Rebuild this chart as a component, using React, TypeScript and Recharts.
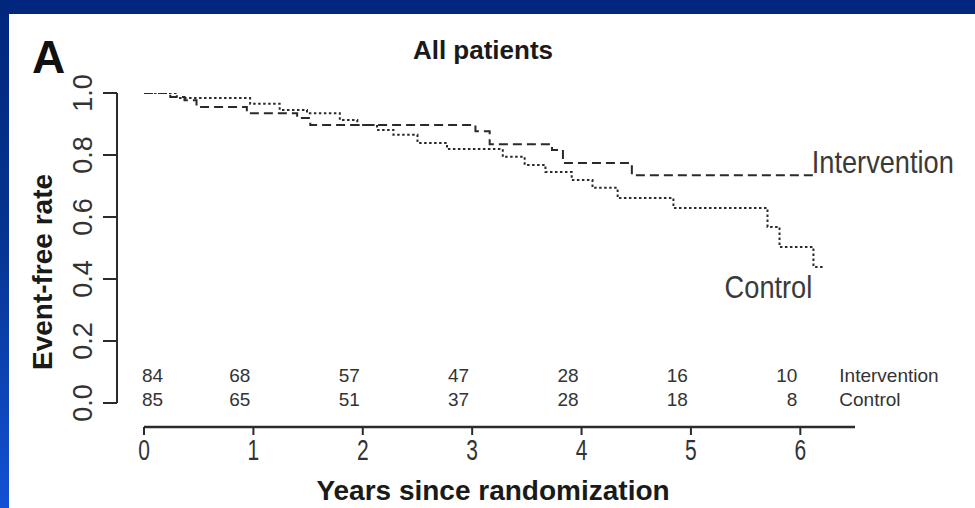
import { LabelList, Line, LineChart, ReferenceLine, XAxis, YAxis } from 'recharts';

// number at risk, read under each year tick
const years = [0, 1, 2, 3, 4, 5, 6];
const atRiskIntervention = [84, 68, 57, 47, 28, 16, 10];
const atRiskControl = [85, 65, 51, 37, 28, 18, 8];
const rateTicks = [0, 0.2, 0.4, 0.6, 0.8, 1.0];

// Kaplan-Meier steps (time in years, event-free rate)
const interventionTime = [0, 0.24, 0.37, 0.48, 0.94, 1.4, 1.52, 3.03, 3.16, 3.73, 3.83, 4.46, 6.15];
const interventionRate = [1.0, 0.987, 0.977, 0.955, 0.935, 0.919, 0.897, 0.877, 0.835, 0.816, 0.774, 0.735, 0.735];
const controlTime = [0, 0.3, 0.97, 1.24, 1.49, 1.79, 1.95, 2.13, 2.28, 2.5, 2.77, 3.28, 3.48, 3.67, 3.91, 4.1, 4.33, 4.84, 5.7, 5.81, 6.12, 6.21];
const controlRate = [1.0, 0.984, 0.965, 0.945, 0.935, 0.913, 0.897, 0.881, 0.865, 0.839, 0.819, 0.794, 0.768, 0.745, 0.719, 0.694, 0.661, 0.629, 0.568, 0.503, 0.439, 0.439];

const interventionData = interventionTime.map((t, i) => ({ t, v: interventionRate[i] }));
const controlData = controlTime.map((t, i) => ({ t, v: controlRate[i] }));

const X_MIN = -0.247;
const X_MAX = 6.5;
const Y_MIN = -0.0774;

const FONT = "'Liberation Sans', Arial, sans-serif";
const INK = '#2b2b2b';

function XTick(props: any) {
  const { x, y, payload } = props;
  const i = years.indexOf(payload.value);
  const numX = i === 0 ? x + 19 : x - 3;
  return (
    <g fontFamily={FONT}>
      <g transform={`translate(${x},${y + 23}) scale(0.7,1)`}>
        <text textAnchor="middle" fontSize={30} fill="#333">{payload.value}</text>
      </g>
      <text x={numX} y={y - 55} textAnchor="end" fontSize={19} fill="#333">{atRiskIntervention[i]}</text>
      <text x={numX} y={y - 31} textAnchor="end" fontSize={19} fill="#333">{atRiskControl[i]}</text>
      {i === years.length - 1 && (
        <>
          <text x={x + 39} y={y - 55} fontSize={19} fill="#333">Intervention</text>
          <text x={x + 39} y={y - 31} fontSize={19} fill="#333">Control</text>
        </>
      )}
    </g>
  );
}

function YTick(props: any) {
  const { x, y, payload } = props;
  const bx = x - 9;
  return (
    <text
      x={bx}
      y={y}
      transform={`rotate(-90, ${bx}, ${y})`}
      textAnchor="middle"
      fontSize={27}
      fontFamily={FONT}
      fill="#333"
    >
      {payload.value.toFixed(1)}
    </text>
  );
}

const endLabel = (name: string, last: number, dx: number, dy: number, anchor: string) => (props: any) => {
  if (props.index !== last) return null;
  return (
    <g transform={`translate(${props.x + dx},${props.y + dy}) scale(0.85,1)`}>
      <text textAnchor={anchor} fontSize={32} fontFamily={FONT} fill="#3a3a3a">{name}</text>
    </g>
  );
};

export default function App() {
  return (
    <div
      style={{
        position: 'absolute',
        left: 0,
        top: 0,
        width: 975,
        height: 508,
        background: 'linear-gradient(180deg, #00267e 0%, #06338f 45%, #1350d4 100%)',
        overflow: 'hidden',
      }}
    >
      <div style={{ position: 'absolute', left: 9, top: 14, width: 966, height: 494, background: '#fff' }} />
      <div style={{ position: 'absolute', left: 0, top: 0 }}>
        <LineChart
          width={975}
          height={508}
          margin={{ top: 93, right: 120, bottom: 21, left: 57 }}
        >
          <XAxis
            dataKey="t"
            type="number"
            domain={[X_MIN, X_MAX]}
            allowDataOverflow
            ticks={years}
            height={60}
            axisLine={false}
            tickSize={8}
            tickLine={{ stroke: INK, strokeWidth: 2 }}
            tick={<XTick />}
            interval={0}
          />
          <YAxis
            type="number"
            domain={[Y_MIN, 1]}
            allowDataOverflow
            ticks={rateTicks}
            width={60}
            axisLine={false}
            tickSize={14}
            tickLine={{ stroke: INK, strokeWidth: 2 }}
            tick={<YTick />}
            interval={0}
          />
          <ReferenceLine
            segment={[{ x: X_MIN, y: 0 }, { x: X_MIN, y: 1 }]}
            stroke={INK}
            strokeWidth={2}
            ifOverflow="visible"
          />
          <ReferenceLine
            segment={[{ x: 0, y: Y_MIN }, { x: X_MAX, y: Y_MIN }]}
            stroke={INK}
            strokeWidth={2.5}
            ifOverflow="visible"
          />
          <Line
            data={interventionData}
            dataKey="v"
            type="stepAfter"
            stroke="#2a2a2a"
            strokeWidth={2}
            strokeDasharray="9 5"
            dot={false}
            activeDot={false}
            isAnimationActive={false}
          >
            <LabelList content={endLabel('Intervention', interventionData.length - 1, -5, -2, 'start')} />
          </Line>
          <Line
            data={controlData}
            dataKey="v"
            type="stepAfter"
            stroke="#2a2a2a"
            strokeWidth={2}
            strokeDasharray="2.5 2.5"
            dot={false}
            activeDot={false}
            isAnimationActive={false}
          >
            <LabelList content={endLabel('Control', controlData.length - 1, -11, 31, 'end')} />
          </Line>
        </LineChart>
      </div>
      <svg width={975} height={508} style={{ position: 'absolute', left: 0, top: 0, pointerEvents: 'none' }}>
        <text x={32} y={73} fontSize={46} fontWeight="bold" fontFamily={FONT} fill="#111">A</text>
        <text x={483} y={59} fontSize={26} fontWeight="bold" fontFamily={FONT} fill="#1a1a1a" textAnchor="middle">All patients</text>
        <text x={493} y={500} fontSize={28} fontWeight="bold" fontFamily={FONT} fill="#1a1a1a" textAnchor="middle">Years since randomization</text>
        <text
          x={52}
          y={272}
          transform="rotate(-90, 52, 272)"
          fontSize={28}
          fontWeight="bold"
          fontFamily={FONT}
          fill="#1a1a1a"
          textAnchor="middle"
        >
          Event-free rate
        </text>
      </svg>
    </div>
  );
}
